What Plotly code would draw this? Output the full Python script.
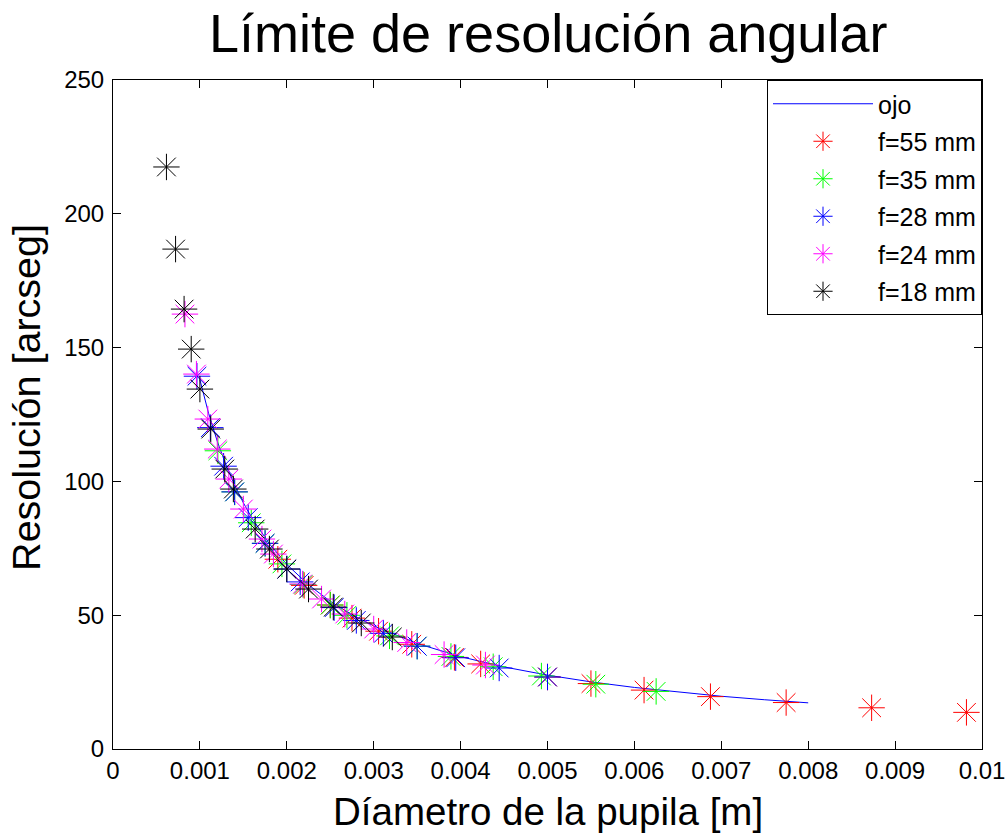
import plotly.graph_objects as go

# f-number sequence used for the lens series (third stops)
f_numbers = [5.6, 6.3, 7.1, 8, 9, 10, 11, 13, 14, 16, 18, 20, 22, 25, 29]

# "ojo" curve: pupil diameter [m] and resolution [arcsec]
eye_d = [0.0010, 0.0011, 0.0012, 0.0013, 0.0014, 0.0015, 0.0016, 0.0018, 0.0020,
         0.00225, 0.0025, 0.00275, 0.0030, 0.0035, 0.0040, 0.0045, 0.0050,
         0.0055, 0.0060, 0.0065, 0.0070, 0.0075, 0.0080]
eye_r = [138.0, 125.45, 115.0, 106.15, 98.57, 92.0, 86.25, 76.67, 69.0,
         61.33, 55.2, 50.18, 46.0, 39.43, 34.5, 30.67, 27.6,
         25.09, 23.0, 21.23, 19.71, 18.4, 17.25]

# f = 55 mm
d55 = [0.009821, 0.008730, 0.007746, 0.006875, 0.006111, 0.005500, 0.005000, 0.004231,
       0.003929, 0.003438, 0.003056, 0.002750, 0.002500, 0.002200, 0.001897]
r55 = [13.69, 15.40, 17.36, 19.57, 22.01, 24.45, 26.90, 31.79,
       34.23, 39.13, 44.02, 48.91, 53.80, 61.14, 70.92]
# f = 35 mm
d35 = [0.006250, 0.005556, 0.004930, 0.004375, 0.003889, 0.003500, 0.003182, 0.002692,
       0.002500, 0.002188, 0.001944, 0.001750, 0.001591, 0.001400, 0.001207]
r35 = [21.52, 24.21, 27.28, 30.74, 34.59, 38.43, 42.27, 49.96,
       53.80, 61.49, 69.17, 76.86, 84.54, 96.08, 111.44]
# f = 28 mm
d28 = [0.005000, 0.004444, 0.003944, 0.003500, 0.003111, 0.002800, 0.002545, 0.002154,
       0.002000, 0.001750, 0.001556, 0.001400, 0.001273, 0.001120, 0.000966]
r28 = [26.90, 30.27, 34.10, 38.43, 43.23, 48.04, 52.84, 62.44,
       67.25, 76.86, 86.46, 96.08, 105.68, 120.09, 139.31]
# f = 24 mm
d24 = [0.004286, 0.003810, 0.003380, 0.003000, 0.002667, 0.002400, 0.002182, 0.001846,
       0.001714, 0.001500, 0.001333, 0.001200, 0.001091, 0.000960, 0.000828]
r24 = [31.38, 35.30, 39.79, 44.83, 50.44, 56.05, 61.65, 72.85,
       78.46, 89.67, 100.88, 112.08, 123.30, 140.10, 162.52]
# f = 18 mm
d18 = [0.003214, 0.002857, 0.002535, 0.002250, 0.002000, 0.001800, 0.001636, 0.001385,
       0.001286, 0.001125, 0.001000, 0.000900, 0.000818, 0.000720, 0.000615]
r18 = [41.84, 47.08, 53.05, 59.77, 67.25, 74.73, 82.19, 97.14,
       104.61, 119.56, 134.50, 149.44, 164.39, 186.81, 217.5]

series_names = ["f=55 mm", "f=35 mm", "f=28 mm", "f=24 mm", "f=18 mm"]
series_colors = ["#FF0000", "#00FF00", "#0000FF", "#FF00FF", "#000000"]
series_d = [d55, d35, d28, d24, d18]
series_r = [r55, r35, r28, r24, r18]

x_tickvals = [0, 0.001, 0.002, 0.003, 0.004, 0.005, 0.006, 0.007, 0.008, 0.009, 0.01]
x_ticktext = ["0", "0.001", "0.002", "0.003", "0.004", "0.005", "0.006", "0.007", "0.008", "0.009", "0.01"]
y_tickvals = [0, 50, 100, 150, 200, 250]

FONT = "Liberation Sans, Arial, Helvetica, sans-serif"

fig = go.Figure()
fig.add_trace(go.Scatter(x=eye_d, y=eye_r, mode="lines", name="ojo",
                         line=dict(color="#0000FF", width=1), legendgroup="g0"))
for i, (nm, col, dx, ry) in enumerate(zip(series_names, series_colors, series_d, series_r)):
    fig.add_trace(go.Scatter(x=dx, y=ry, mode="markers", name=nm, legendgroup=f"g{i+1}",
                             marker=dict(symbol="asterisk-open", size=22,
                                         color=col, line=dict(color=col, width=1))))

axis_common = dict(showline=True, linecolor="black", linewidth=1, mirror="ticks",
                   ticks="inside", ticklen=8, tickcolor="black", tickwidth=1,
                   showgrid=False, zeroline=False, automargin=False,
                   tickfont=dict(family=FONT, size=24, color="black"))

fig.update_layout(
    width=1008, height=834,
    paper_bgcolor="white", plot_bgcolor="white",
    margin=dict(l=113, r=26, t=80, b=85, autoexpand=False),
    font=dict(family=FONT, color="black"),
    showlegend=True,
    legend=dict(x=1, xanchor="right", y=1, yanchor="top",
                bordercolor="black", borderwidth=1, bgcolor="white",
                font=dict(family=FONT, size=25, color="black"),
                tracegroupgap=2, itemwidth=100),
    xaxis=dict(range=[0, 0.01], tickvals=x_tickvals, ticktext=x_ticktext, **axis_common),
    yaxis=dict(range=[0, 250], tickvals=y_tickvals, ticklabelstandoff=3, **axis_common),
    annotations=[
        dict(text="Límite de resolución angular", xref="paper", yref="paper",
             x=0.5, y=1, yanchor="bottom", yshift=15, showarrow=False,
             font=dict(family=FONT, size=54, color="black")),
        dict(text="Díametro de la pupila [m]", xref="paper", yref="paper",
             x=0.5, y=-0.0927, yanchor="middle", showarrow=False,
             font=dict(family=FONT, size=38.5, color="black")),
        dict(text="Resolución [arcseg]", xref="paper", yref="paper",
             x=-0.10, y=0.525, xanchor="center", yanchor="middle", textangle=-90,
             showarrow=False, font=dict(family=FONT, size=39.5, color="black")),
    ],
)

fig.write_html("out.html", config={"displayModeBar": False},
               post_script="document.body.style.margin='0';document.body.style.overflow='hidden';")
